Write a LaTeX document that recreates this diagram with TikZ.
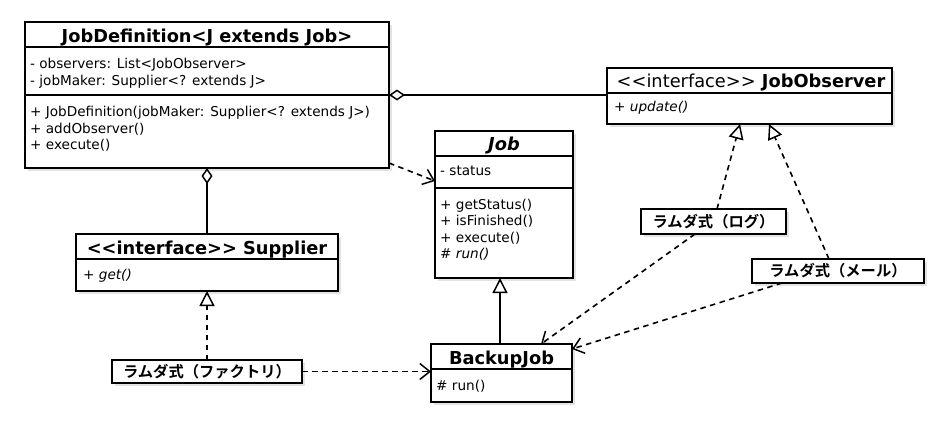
\documentclass[tikz,border=0pt]{standalone}
\usepackage{fontspec}
\setmainfont{DejaVu Sans}[Ligatures=TeXOff]
\newfontfamily\jpfont{Noto Sans CJK JP}[BoldFont={Noto Sans CJK JP Bold}]
\usetikzlibrary{arrows.meta,shadows}
\begin{document}
\begin{tikzpicture}[x=1pt,y=-1pt,
  cls/.style={draw, line width=1.2pt, fill=white, anchor=north west, inner sep=0pt, outer sep=0pt,
    drop shadow={opacity=0.22, shadow xshift=3pt, shadow yshift=-3pt}},
  hdr/.style={font=\fontsize{17.8}{20}\selectfont\bfseries, anchor=base, inner sep=0pt},
  txt/.style={font=\fontsize{13.6}{16}\selectfont, anchor=base west, inner sep=0pt},
  itxt/.style={txt, font=\fontsize{13.6}{16}\selectfont\itshape},
  lam/.style={draw, line width=1.2pt, fill=white, inner sep=0pt, outer sep=0pt,
    drop shadow={opacity=0.22, shadow xshift=3pt, shadow yshift=-3pt},
    font=\jpfont\bfseries\fontsize{15.3}{18}\selectfont},
  divider/.style={line width=1.2pt},
  conn/.style={line width=1.6pt},
  dsh/.style={conn, dash pattern=on 5.5pt off 4.5pt},
  agg/.style={conn, {Diamond[open, length=16pt, width=11pt, line width=1.5pt, fill=white]}-},
  real/.style={dsh, -{Triangle[open, length=15pt, width=15pt, line width=1.5pt, fill=white]}},
  gen/.style={conn, -{Triangle[open, length=15pt, width=15pt, line width=1.5pt, fill=white]}},
  dep/.style={dsh, -{Straight Barb[length=10pt, width=16pt, line width=1.5pt]}},
]
\useasboundingbox (0,0) rectangle (941,424);
\fill[white] (0,0) rectangle (941,424);

% ---------- JobDefinition ----------
\node[cls, minimum width=364pt, minimum height=146pt] (jd) at (25,22) {};
\draw[divider] (25,47) -- (389,47);
\draw[divider] (25,95) -- (389,95);
\node[hdr] (jdt) at (207,42) {JobDefinition<J extends Job>};
\node[txt] (jda1) at (30,68.5) {- observers: List<JobObserver>};
\node[txt] (jda2) at (30,85) {- jobMaker: Supplier<? extends J>};
\node[txt] (jdm1) at (30,116.5) {+ JobDefinition(jobMaker: Supplier<? extends J>)};
\node[txt] (jdm2) at (30,133) {+ addObserver()};
\node[txt] (jdm3) at (30,149.5) {+ execute()};
\coordinate (jdR) at (389,95);
\coordinate (jdB) at (207,168);
\coordinate (jdD) at (389,163);

% ---------- JobObserver ----------
\node[cls, minimum width=285pt, minimum height=56pt] (jo) at (607,68) {};
\draw[divider] (607,93) -- (892,93);
\node[hdr] (jot) at (751,87) {{\mdseries <<interface>>} JobObserver};
\node[itxt] (jom1) at (614,111.5) {+ update()};

% ---------- Job ----------
\node[cls, minimum width=138pt, minimum height=147pt] (job) at (435,131) {};
\draw[divider] (435,156) -- (573,156);
\draw[divider] (435,188) -- (573,188);
\node[hdr, font=\fontsize{17.8}{20}\selectfont\bfseries\itshape] (jobt) at (504,150.5) {Job};
\node[txt] (joba1) at (440,175) {- status};
\node[txt] (jobm1) at (440,209) {+ getStatus()};
\node[txt] (jobm2) at (440,225.5) {+ isFinished()};
\node[txt] (jobm3) at (440,242) {+ execute()};
\node[txt] (jobm4) at (440,258.5) {\# \textit{run()}};

% ---------- Supplier ----------
\node[cls, minimum width=262pt, minimum height=57pt] (sup) at (76,234) {};
\draw[divider] (76,259) -- (338,259);
\node[hdr] (supt) at (207,254) {<<interface>> Supplier};
\node[itxt] (supm1) at (83,279.5) {+ get()};

% ---------- BackupJob ----------
\node[cls, minimum width=141pt, minimum height=58pt] (bj) at (431,344) {};
\draw[divider] (431,369) -- (572,369);
\node[hdr] (bjt) at (501.5,364) {BackupJob};
\node[txt] (bjm1) at (436,390) {\# run()};

% ---------- lambdas ----------
\node[lam, minimum width=190pt, minimum height=23pt] (lf) at (207,371.5) {ラムダ式（ファクトリ）};
\node[lam, minimum width=145pt, minimum height=25pt] (ll) at (713.5,221.5) {ラムダ式（ログ）};
\node[lam, minimum width=172pt, minimum height=24pt] (lm) at (838,271) {ラムダ式（メール）};

% ---------- connectors ----------
\draw[agg] (jdR) -- (jo.west |- jdR);
\draw[agg] (jdB) -- (sup.north);
\draw[dep] (jdD) -- (job.west |- 0,181);
\draw[gen] (bj.north -| 500,0) -- (job.south -| 500,0);
\draw[real] (lf.north) -- (sup.south);
\draw[dep] (lf.east) -- (bj.west |- lf.east);
\coordinate (joL) at (740,124);
\coordinate (joM) at (769,124);
\draw[real] (ll.north -| 717,0) -- (joL);
\draw[real] (lm.north -| 829,0) -- (joM);
\coordinate (bjL) at (541,344);
\coordinate (bjM) at (572,349);
\draw[dep] (ll.south -| 695,0) -- (bjL);
\draw[dep] (lm.south -| 782,0) -- (bjM);
\end{tikzpicture}
\end{document}
